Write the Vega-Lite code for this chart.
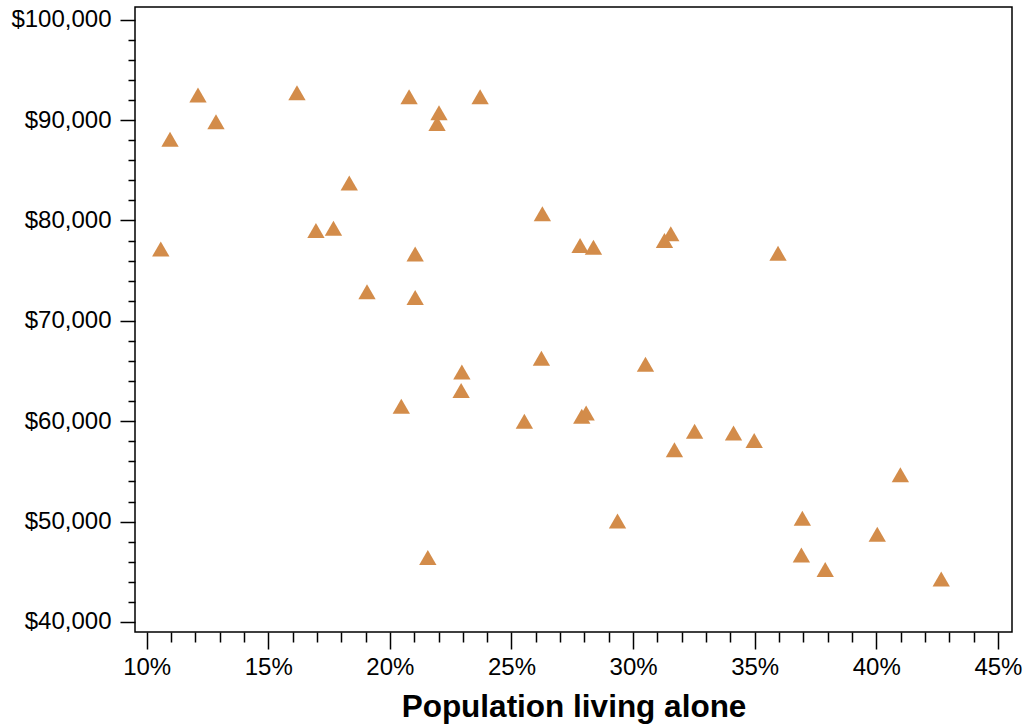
{
  "$schema": "https://vega.github.io/schema/vega-lite/v6.json",
  "width": 877,
  "height": 625,
  "autosize": "none",
  "padding": {"left": 135, "top": 7, "right": 12, "bottom": 95},
  "background": "white",
  "config": {
    "view": {"stroke": "black", "strokeWidth": 1.5},
    "font": "Liberation Sans"
  },
  "data": {
    "values": [
      {"alone": 10.58, "income": 77170},
      {"alone": 10.96, "income": 88100},
      {"alone": 12.11, "income": 92500},
      {"alone": 12.85, "income": 89830},
      {"alone": 16.18, "income": 92730},
      {"alone": 16.96, "income": 79000},
      {"alone": 17.68, "income": 79230},
      {"alone": 18.33, "income": 83730},
      {"alone": 19.06, "income": 72900},
      {"alone": 20.47, "income": 61500},
      {"alone": 20.79, "income": 92330},
      {"alone": 21.04, "income": 76670},
      {"alone": 21.04, "income": 72330},
      {"alone": 21.56, "income": 46430},
      {"alone": 22.02, "income": 90730},
      {"alone": 21.94, "income": 89670},
      {"alone": 22.96, "income": 64900},
      {"alone": 22.93, "income": 63070},
      {"alone": 23.71, "income": 92330},
      {"alone": 25.53, "income": 60000},
      {"alone": 26.23, "income": 66270},
      {"alone": 26.27, "income": 80670},
      {"alone": 27.82, "income": 77500},
      {"alone": 28.37, "income": 77330},
      {"alone": 27.89, "income": 60500},
      {"alone": 28.07, "income": 60830},
      {"alone": 29.36, "income": 50070},
      {"alone": 30.51, "income": 65670},
      {"alone": 31.29, "income": 78000},
      {"alone": 31.55, "income": 78670},
      {"alone": 31.70, "income": 57170},
      {"alone": 32.53, "income": 59000},
      {"alone": 34.13, "income": 58830},
      {"alone": 34.98, "income": 58070},
      {"alone": 35.96, "income": 76730},
      {"alone": 36.96, "income": 50330},
      {"alone": 36.92, "income": 46670},
      {"alone": 37.90, "income": 45230},
      {"alone": 40.04, "income": 48730},
      {"alone": 40.99, "income": 54670},
      {"alone": 42.67, "income": 44270}
    ]
  },
  "mark": {"type": "point", "shape": "triangle-up", "filled": true, "size": 300, "color": "#D38C4A", "opacity": 1, "strokeWidth": 0},
  "encoding": {
    "x": {
      "field": "alone",
      "type": "quantitative",
      "scale": {"domain": [9.52, 45.58], "nice": false, "zero": false},
      "axis": {
        "title": "Population living alone",
        "titleFont": "Liberation Sans",
        "titleFontSize": 31.5,
        "titleFontWeight": "bold",
        "titleColor": "black",
        "titlePadding": 12,
        "values": [10,11,12,13,14,15,16,17,18,19,20,21,22,23,24,25,26,27,28,29,30,31,32,33,34,35,36,37,38,39,40,41,42,43,44,45],
        "labelExpr": "datum.value % 5 === 0 ? datum.value + '%' : ''",
        "labelFontSize": 24,
        "labelColor": "black",
        "labelPadding": 6,
        "labelFlush": false,
        "labelOverlap": false,
        "domain": false,
        "grid": false,
        "tickColor": "black",
        "tickWidth": 1.5,
        "tickSize": {"condition": {"test": "datum.value % 5 === 0", "value": 17}, "value": 10}
      }
    },
    "y": {
      "field": "income",
      "type": "quantitative",
      "scale": {"domain": [39000, 101270], "nice": false, "zero": false},
      "axis": {
        "title": null,
        "values": [40000,42000,44000,46000,48000,50000,52000,54000,56000,58000,60000,62000,64000,66000,68000,70000,72000,74000,76000,78000,80000,82000,84000,86000,88000,90000,92000,94000,96000,98000,100000],
        "labelExpr": "datum.value % 10000 === 0 ? '$' + format(datum.value, ',') : ''",
        "labelFontSize": 24,
        "labelColor": "black",
        "labelPadding": 9,
        "labelOverlap": false,
        "labelFlush": false,
        "domain": false,
        "grid": false,
        "tickColor": "black",
        "tickWidth": 1.5,
        "tickSize": {"condition": {"test": "datum.value % 10000 === 0", "value": 15}, "value": 7}
      }
    }
  }
}
